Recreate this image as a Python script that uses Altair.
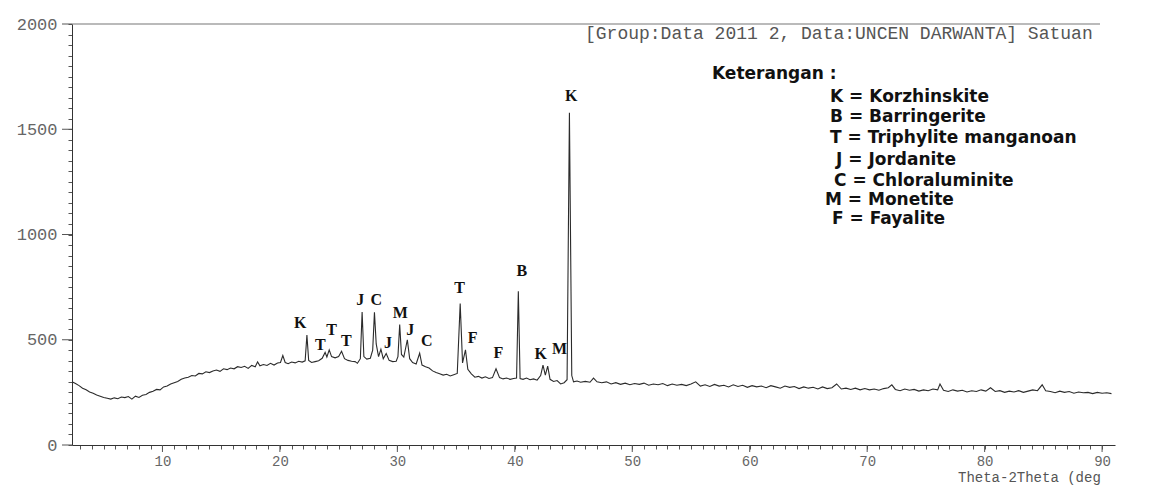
import altair as alt
import pandas as pd

# ---- data ----
two_theta = [
    2.3, 2.6, 2.9, 3.2, 3.5, 3.8, 4.1, 4.4, 4.7, 5.0, 5.3, 5.6, 5.9, 6.2, 6.5, 6.8,
    7.1, 7.4, 7.7, 8.0, 8.3, 8.6, 8.9, 9.2, 9.5, 9.8, 10.1, 10.4, 10.7, 11.0, 11.3,
    11.6, 11.9, 12.2, 12.5, 12.8, 13.1, 13.4, 13.7, 14.0, 14.3, 14.6, 14.9, 15.2,
    15.5, 15.8, 16.1, 16.4, 16.7, 17.0, 17.3, 17.6, 17.9, 18.1, 18.3, 18.6, 18.9,
    19.2, 19.5, 19.8, 20.05, 20.25, 20.45, 20.7, 21.0, 21.3, 21.6, 21.9, 22.15,
    22.3, 22.45, 22.7, 23.0, 23.3, 23.6, 23.85, 24.0, 24.2, 24.4, 24.7, 25.0,
    25.25, 25.5, 25.8, 26.1, 26.4, 26.6, 26.85, 27.0, 27.15, 27.4, 27.7, 27.9,
    28.05, 28.2, 28.4, 28.6, 28.8, 29.05, 29.3, 29.6, 29.9, 30.05, 30.2, 30.35,
    30.55, 30.85, 31.05, 31.3, 31.6, 31.9, 32.1, 32.4, 32.7, 33.0, 33.3, 33.6,
    33.9, 34.2, 34.5, 34.8, 35.1, 35.35, 35.55, 35.8, 36.0, 36.3, 36.6, 36.9,
    37.2, 37.5, 37.8, 38.1, 38.4, 38.7, 39.0, 39.3, 39.6, 39.9, 40.15, 40.3,
    40.45, 40.7, 41.0, 41.3, 41.6, 41.9, 42.2, 42.4, 42.6, 42.8, 43.0, 43.3,
    43.6, 43.9, 44.2, 44.45, 44.65, 44.85, 45.0, 45.3, 45.6, 46.0, 46.4, 46.7,
    47.0, 47.4, 47.8, 48.2, 48.6, 49.0, 49.4, 49.8, 50.2, 50.6, 51.0, 51.4,
    51.8, 52.2, 52.6, 53.0, 53.4, 53.8, 54.2, 54.6, 55.0, 55.4, 55.8, 56.2,
    56.6, 57.0, 57.4, 57.8, 58.2, 58.6, 59.0, 59.4, 59.8, 60.2, 60.6, 61.0,
    61.4, 61.8, 62.2, 62.6, 63.0, 63.4, 63.8, 64.2, 64.6, 65.0, 65.4, 65.8,
    66.2, 66.6, 67.0, 67.4, 67.8, 68.2, 68.6, 69.0, 69.4, 69.8, 70.2, 70.6,
    71.0, 71.4, 71.8, 72.1, 72.4, 72.8, 73.2, 73.6, 74.0, 74.4, 74.8, 75.2,
    75.6, 76.0, 76.2, 76.5, 76.9, 77.3, 77.7, 78.1, 78.5, 78.9, 79.3, 79.7,
    80.1, 80.5, 80.9, 81.3, 81.7, 82.1, 82.5, 82.9, 83.3, 83.7, 84.1, 84.5,
    84.9, 85.2, 85.6, 86.0, 86.4, 86.8, 87.2, 87.6, 88.0, 88.4, 88.8, 89.2,
    89.6, 90.0, 90.4, 90.8,
]
counts = [
    300, 292, 282, 270, 262, 252, 246, 238, 232, 226, 222, 218, 224, 220, 228, 225,
    230, 218, 232, 226, 236, 240, 250, 255, 264, 262, 276, 280, 290, 296, 302,
    312, 318, 322, 330, 328, 340, 338, 348, 344, 352, 356, 350, 362,
    358, 366, 362, 372, 368, 374, 364, 378, 372, 395, 376, 382, 378,
    388, 380, 390, 392, 425, 392, 386, 394, 390, 398, 394, 400,
    522, 402, 392, 396, 400, 412, 440, 418, 452, 420, 414, 420,
    445, 410, 402, 398, 396, 388, 410, 632, 420, 408, 412, 450,
    630, 480, 420, 455, 410, 435, 402, 396, 398, 420, 572, 430,
    418, 500, 410, 392, 385, 436, 380, 372, 366, 352, 344, 338,
    332, 336, 328, 334, 340, 672, 390, 452, 360, 338, 322, 326,
    318, 324, 316, 320, 362, 320, 314, 318, 312, 316, 318, 730,
    316, 312, 318, 310, 314, 308, 330, 380, 332, 375, 312, 302,
    306, 290, 296, 310, 1578, 330, 300, 304, 298, 302, 298, 318,
    300, 296, 300, 290, 296, 288, 294, 286, 292, 288, 294, 284,
    290, 286, 292, 282, 290, 284, 288, 282, 290, 300, 280, 286,
    278, 288, 280, 284, 276, 286, 278, 284, 274, 282, 276, 280,
    272, 282, 276, 270, 280, 274, 278, 268, 276, 270, 274, 266,
    276, 268, 272, 290, 266, 270, 264, 270, 262, 268, 262, 266,
    260, 268, 272, 286, 264, 258, 266, 260, 264, 256, 262, 258,
    266, 262, 290, 260, 254, 262, 256, 260, 252, 258, 254, 262,
    256, 272, 254, 258, 250, 256, 252, 258, 250, 256, 262, 258,
    286, 258, 254, 248, 256, 250, 254, 246, 252, 248, 250, 244,
    250, 246, 248, 244,
]

peak_letters = ["K", "T", "T", "T", "J", "C", "J", "M", "J", "C", "T", "F", "F", "B", "K", "M", "K"]
peak_label_x = [21.74, 23.45, 24.4, 25.66, 26.85, 28.2, 29.2, 30.25, 31.1, 32.5, 35.3, 36.4, 38.6, 40.6, 42.2, 43.8, 44.8]
peak_label_y = [580, 475, 546, 494, 689, 689, 485, 627, 546, 494, 746, 508, 437, 827, 432, 456, 1658]

legend_title = "Keterangan :"
legend_lines = [
    "K = Korzhinskite",
    "B = Barringerite",
    "T = Triphylite manganoan",
    "J = Jordanite",
    "C = Chloraluminite",
    "M = Monetite",
    "F = Fayalite",
]
header_text = "[Group:Data 2011 2, Data:UNCEN DARWANTA] Satuan"
x_title = "Theta-2Theta (deg"

x_minor = list(range(3, 91))
x_major = [10, 20, 30, 40, 50, 60, 70, 80, 90]
y_minor = list(range(0, 2001, 50))
y_major = [0, 500, 1000, 1500, 2000]

W, H = 1043, 421
MONO = "Liberation Mono"
xscale = alt.Scale(domain=[2.3, 91.1], nice=False, zero=False)
yscale = alt.Scale(domain=[0, 2000], nice=False)

xaxis = alt.Axis(values=x_minor, labelExpr="datum.value % 10 == 0 ? datum.label : ''",
                 tickSize=4, labelPadding=5, grid=False, domainColor="#333",
                 tickColor="#555", labelColor="#666", labelFont=MONO, title=None,
                 labelFontSize=14, labelFlush=False, labelOverlap=False)
yaxis = alt.Axis(values=y_minor, labelExpr="datum.value % 500 == 0 ? datum.label : ''",
                 tickSize=4, labelPadding=11, grid=False, domainColor="#333",
                 tickColor="#555", labelColor="#666", labelFont=MONO, title=None,
                 labelFontSize=17, labelFlush=False, labelOverlap=False, format="d")

df = pd.DataFrame({"tt": two_theta, "cnt": counts})

line = alt.Chart(df).mark_line(color="#2b2b2b", strokeWidth=1.1).encode(
    x=alt.X("tt:Q", scale=xscale, axis=xaxis),
    y=alt.Y("cnt:Q", scale=yscale, axis=yaxis),
)

xmaj = alt.Chart(pd.DataFrame({"v": x_major})).mark_rule(color="#555", strokeWidth=1).encode(
    x=alt.X("v:Q", scale=xscale, axis=xaxis), y=alt.value(H), y2=alt.value(H + 7))
ymaj = alt.Chart(pd.DataFrame({"v": y_major})).mark_rule(color="#555", strokeWidth=1).encode(
    y=alt.Y("v:Q", scale=yscale, axis=yaxis), x=alt.value(-10), x2=alt.value(0))
top_rule = alt.Chart(pd.DataFrame({"v": [2000]})).mark_rule(color="#777", strokeWidth=1.2).encode(
    y=alt.Y("v:Q", scale=yscale, axis=yaxis), x=alt.value(0), x2=alt.value(W - 15))

peaks = alt.Chart(pd.DataFrame({"t": peak_letters, "x": peak_label_x, "y": peak_label_y})).mark_text(
    font="Liberation Serif", fontWeight="bold", fontSize=16, color="#111", baseline="middle"
).encode(x=alt.X("x:Q", scale=xscale, axis=xaxis), y=alt.Y("y:Q", scale=yscale, axis=yaxis), text="t:N")

layers = [line, xmaj, ymaj, top_rule, peaks]

layers.append(alt.Chart(pd.DataFrame({"t": [header_text]})).mark_text(
    font=MONO, fontSize=18, color="#555", align="left", baseline="middle"
).encode(x=alt.value(513), y=alt.value(10), text="t:N"))

layers.append(alt.Chart(pd.DataFrame({"t": [x_title]})).mark_text(
    font=MONO, fontSize=14, color="#555", align="left", baseline="middle"
).encode(x=alt.value(886), y=alt.value(454), text="t:N"))

layers.append(alt.Chart(pd.DataFrame({"t": [legend_title]})).mark_text(
    font="DejaVu Sans", fontWeight="bold", fontSize=17, color="#111", align="left", baseline="middle"
).encode(x=alt.value(640), y=alt.value(50), text="t:N"))

legend_x = [758, 758, 758, 764, 762, 753, 760]
legend_y = [73, 93, 114, 136, 157, 176, 195]
for txt, lx, ly in zip(legend_lines, legend_x, legend_y):
    layers.append(alt.Chart(pd.DataFrame({"t": [txt]})).mark_text(
        font="DejaVu Sans", fontWeight="bold", fontSize=17, color="#111", align="left", baseline="middle"
    ).encode(x=alt.value(lx), y=alt.value(ly), text="t:N"))

chart = alt.layer(*layers).properties(
    width=W, height=H,
    autosize=alt.AutoSizeParams(type="none"),
    padding={"left": 64, "top": 16, "right": 25, "bottom": 40},
    background="white",
).configure_view(stroke=None)

chart.save("out.html", embed_options={"renderer": "svg", "actions": False})
